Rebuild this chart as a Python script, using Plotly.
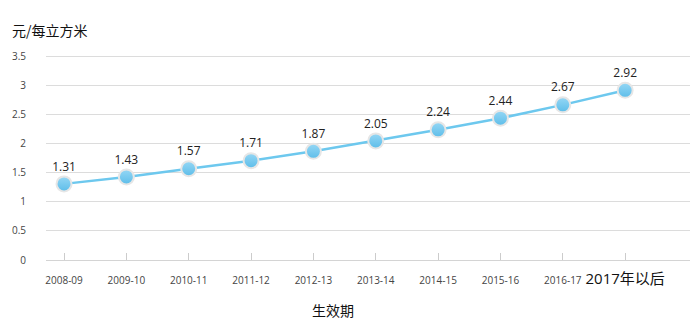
import plotly.graph_objects as go

# Water price by effective period (yuan per cubic metre)
periods = ["2008-09", "2009-10", "2010-11", "2011-12", "2012-13",
           "2013-14", "2014-15", "2015-16", "2016-17", "2017年以后"]
prices = [1.31, 1.43, 1.57, 1.71, 1.87, 2.05, 2.24, 2.44, 2.67, 2.92]
y_ticks = [0, 0.5, 1, 1.5, 2, 2.5, 3, 3.5]

x_idx = list(range(len(periods)))
tick_text = [p if i < len(periods) - 1 else
             f'<span style="font-size:15px;fill:#111">{p}</span>'
             for i, p in enumerate(periods)]

# plot-area geometry in pixels
M_L, M_R, M_T, M_B = 46, 10, 55, 75
PLOT_W = 700 - M_L - M_R
PLOT_H = 335 - M_T - M_B


def px_x(px):
    return (px - M_L) / PLOT_W


def px_y(py):
    return (335 - M_B - py) / PLOT_H


fig = go.Figure()
fig.add_trace(go.Scatter(
    x=x_idx, y=prices,
    mode="lines+markers+text",
    line=dict(color="#6dc8ee", width=2.5),
    marker=dict(size=15, color="#95d7f5",
                gradient=dict(type="vertical", color="#5dbde9"),
                line=dict(color="#e6e6e6", width=2)),
    text=[f"{v:.2f}" for v in prices],
    textposition="top center",
    textfont=dict(family="Open Sans, Noto Sans, sans-serif", size=12, color="#222"),
    cliponaxis=False,
    hoverinfo="skip",
))

fig.update_layout(
    width=700, height=335,
    margin=dict(l=M_L, r=M_R, t=M_T, b=M_B),
    paper_bgcolor="white", plot_bgcolor="white",
    showlegend=False,
    font=dict(family="Open Sans, Noto Sans CJK SC, sans-serif"),
    xaxis=dict(
        range=[-0.289, 10.04],
        tickmode="array", tickvals=x_idx, ticktext=tick_text,
        tickfont=dict(size=10, color="#444",
                      family="Open Sans, Noto Sans CJK SC, sans-serif"),
        ticks="inside", ticklen=7, tickcolor="#cccccc", tickwidth=1,
        showgrid=False, zeroline=False,
        showline=True, linecolor="#d4d4d4", linewidth=1,
        ticklabelstandoff=11,
        fixedrange=True,
    ),
    yaxis=dict(
        range=[0, 3.528],
        tickmode="array", tickvals=y_ticks,
        ticktext=[f"{v:g}" for v in y_ticks],
        tickfont=dict(size=10, color="#444"),
        showgrid=True, gridcolor="#dcdcdc", gridwidth=1,
        zeroline=False, showline=False,
        ticklabelstandoff=19,
        fixedrange=True,
    ),
    annotations=[
        dict(text="元/每立方米", x=px_x(10), y=px_y(30),
             xref="paper", yref="paper",
             showarrow=False, xanchor="left", yanchor="middle",
             font=dict(size=14, color="#111",
                       family="Noto Sans CJK SC, sans-serif")),
        dict(text="生效期", x=px_x(333), y=px_y(310),
             xref="paper", yref="paper", showarrow=False,
             xanchor="center", yanchor="middle",
             font=dict(size=14, color="#111",
                       family="Noto Sans CJK SC, sans-serif")),
    ],
)

fig.write_html("out.html")
